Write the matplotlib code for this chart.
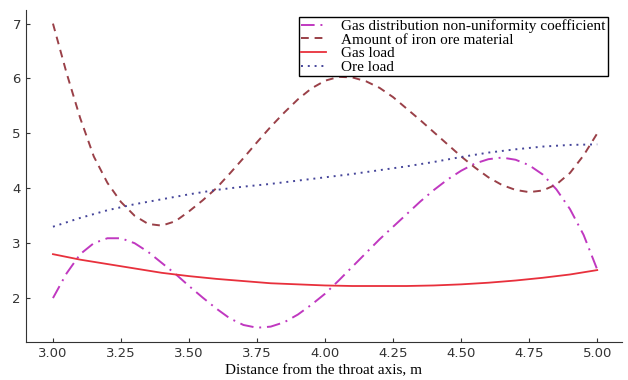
import numpy as np
import matplotlib.pyplot as plt

# distance from throat axis, m
x_fine = [3.00, 3.05, 3.10, 3.15, 3.20, 3.25, 3.30, 3.35, 3.40, 3.45, 3.50,
          3.55, 3.60, 3.65, 3.70, 3.75, 3.80, 3.85, 3.90, 3.95, 4.00,
          4.05, 4.10, 4.15, 4.20, 4.25, 4.30, 4.35, 4.40, 4.45, 4.50,
          4.55, 4.60, 4.65, 4.70, 4.75, 4.80, 4.85, 4.90, 4.95, 5.00]
x_coarse = [3.0, 3.1, 3.2, 3.3, 3.4, 3.5, 3.6, 3.7, 3.8, 3.9, 4.0,
            4.1, 4.2, 4.3, 4.4, 4.5, 4.6, 4.7, 4.8, 4.9, 5.0]

gas_nonuniformity = [2.00, 2.45, 2.80, 3.00, 3.09, 3.09, 3.00, 2.84, 2.64, 2.44, 2.22,
                     2.01, 1.81, 1.63, 1.51, 1.46, 1.48, 1.56, 1.70, 1.88, 2.08,
                     2.32, 2.57, 2.82, 3.07, 3.30, 3.53, 3.76, 3.97, 4.16, 4.32,
                     4.45, 4.53, 4.56, 4.52, 4.42, 4.25, 3.98, 3.62, 3.15, 2.52]
iron_ore = [7.00, 6.10, 5.28, 4.58, 4.10, 3.75, 3.50, 3.35, 3.32, 3.40, 3.58,
            3.78, 4.00, 4.27, 4.55, 4.84, 5.12, 5.38, 5.62, 5.82, 5.96,
            6.03, 6.02, 5.95, 5.83, 5.66, 5.45, 5.24, 5.02, 4.80, 4.58,
            4.38, 4.20, 4.06, 3.97, 3.93, 3.96, 4.07, 4.28, 4.60, 5.00]
gas_load = [2.80, 2.70, 2.62, 2.54, 2.46, 2.40, 2.35, 2.31, 2.27, 2.25, 2.23,
            2.22, 2.22, 2.22, 2.23, 2.25, 2.28, 2.32, 2.37, 2.43, 2.51]
ore_load = [3.30, 3.46, 3.60, 3.71, 3.80, 3.89, 3.97, 4.03, 4.08, 4.14, 4.20,
            4.26, 4.33, 4.40, 4.48, 4.57, 4.65, 4.71, 4.76, 4.79, 4.80]


def main() -> None:
    fig = plt.figure(figsize=(6.28, 3.8), dpi=100)
    ax = fig.add_axes([0.041, 0.10, 0.949, 0.874])

    ax.plot(x_fine, gas_nonuniformity, color='#c038c0', lw=1.4,
            dashes=(7, 3, 1, 3), label='Gas distribution non-uniformity coefficient')
    ax.plot(x_fine, iron_ore, color='#9a4048', lw=1.4,
            dashes=(4, 3), label='Amount of iron ore material')
    ax.plot(x_coarse, gas_load, color='#e8303c', lw=1.3, label='Gas load')
    ax.plot(x_coarse, ore_load, color='#45459a', lw=1.4,
            dashes=(1, 2.5), label='Ore load')

    ax.set_xlim(2.90, 5.09)
    ax.set_ylim(1.2, 7.25)
    ax.set_xticks(np.arange(3.0, 5.01, 0.25))
    ax.set_xticklabels(['%.2f' % v for v in np.arange(3.0, 5.01, 0.25)])
    ax.set_yticks([2, 3, 4, 5, 6, 7])
    ax.tick_params(direction='in', length=3, labelsize=9.5, colors='#333333')
    ax.spines['top'].set_visible(False)
    ax.spines['right'].set_visible(False)
    for s in ('left', 'bottom'):
        ax.spines[s].set_color('#333333')

    ax.set_xlabel('Distance from the throat axis, m', family='Liberation Serif',
                  fontsize=11, labelpad=3)

    leg = ax.legend(loc='upper right', bbox_to_anchor=(0.9765, 0.979),
                    prop={'family': 'Liberation Serif', 'size': 11},
                    handlelength=1.6, handletextpad=1.0, labelspacing=0.0,
                    borderpad=0.15, borderaxespad=0.0, fancybox=False, framealpha=1)
    leg.get_frame().set_edgecolor('black')
    leg.get_frame().set_linewidth(1.0)

    fig.savefig('out.png', dpi=100)


if __name__ == '__main__':
    main()
